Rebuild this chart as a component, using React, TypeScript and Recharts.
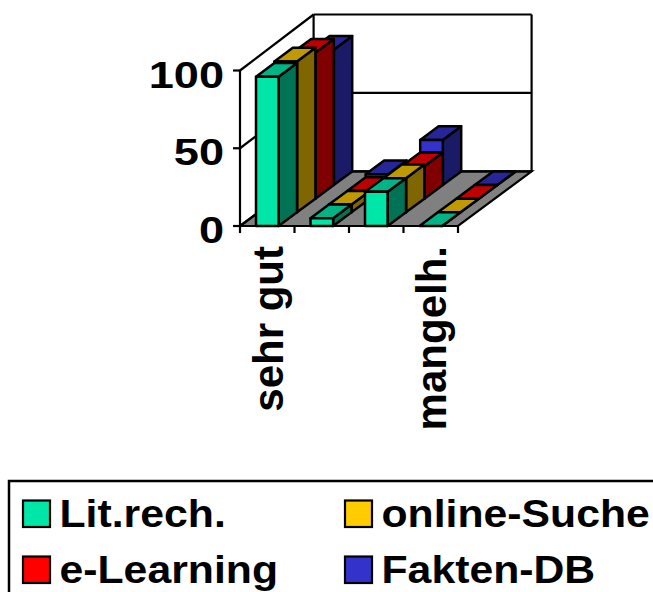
import React from 'react';
import { BarChart, Bar, XAxis, YAxis, usePlotArea } from 'recharts';

const categories = ['sehr gut', '', '', 'mangelh.'];
const litRech = [96, 5, 22, 0];
const onlineSuche = [97, 5, 22, 0];
const eLearning = [94, 5, 21, 0];
const faktenDb = [87, 7, 29, 0];
const yTicks = [0, 50, 100];

const data = categories.map((c, i) => ({
  cat: c + '#' + i,
  label: c,
  lit: litRech[i],
  online: onlineSuche[i],
  learn: eLearning[i],
  fakten: faktenDb[i],
}));

const FONT = '"Liberation Sans", Arial, sans-serif';
const DX = 18.4;
const DY = 13.65;
const BAR_W = 22.6;

type Palette = { front: string; top: string; side: string };
const teal: Palette = { front: '#00E6A8', top: '#00B486', side: '#007354' };
const yellow: Palette = { front: '#FFCC00', top: '#BF9900', side: '#806600' };
const red: Palette = { front: '#FF0000', top: '#BF0000', side: '#800000' };
const blue: Palette = { front: '#3333CC', top: '#262699', side: '#1A1A66' };

const bar3d = (pal: Palette, depth: number) => (props: any) => {
  const { x, y, width, height } = props;
  const ox = x + DX * depth;
  const oy = y - DY * depth;
  const x2 = ox + width;
  const yb = oy + height;
  const common = { stroke: '#000', strokeWidth: 2.5, strokeLinejoin: 'round' as const };
  return (
    <g>
      <polygon points={`${x2},${oy} ${x2 + DX},${oy - DY} ${x2 + DX},${yb - DY} ${x2},${yb}`} fill={pal.side} {...common} />
      <polygon points={`${ox},${oy} ${ox + DX},${oy - DY} ${x2 + DX},${oy - DY} ${x2},${oy}`} fill={pal.top} {...common} />
      {height > 0 && <rect x={ox} y={oy} width={width} height={height} fill={pal.front} {...common} />}
    </g>
  );
};

const Frame = () => {
  const p = usePlotArea();
  if (!p) return null;
  const { x: l, y: t, width: w, height: h } = p;
  const r = l + w;
  const b = t + h;
  const dx = DX * 4;
  const dy = DY * 4;
  const wallTop = 14.5;
  const wallY = (v: number) => b - dy - (v / 100) * (b - dy - wallTop);
  const ln = { stroke: '#000', strokeWidth: 2.2, fill: 'none' };
  return (
    <g>
      <polygon points={`${l},${b} ${l + dx},${b - dy} ${r + dx},${b - dy} ${r},${b}`} fill="#808080" stroke="#000" strokeWidth={2.2} />
      <line x1={l + dx} y1={wallTop} x2={l + dx} y2={b - dy} {...ln} />
      <line x1={r + dx} y1={wallTop} x2={r + dx} y2={b - dy} {...ln} />
      {yTicks.map((v) => (
        <g key={v}>
          <line x1={l + dx} y1={wallY(v)} x2={r + dx} y2={wallY(v)} {...ln} />
          <line x1={l} y1={b - (v / 100) * h} x2={l + dx} y2={wallY(v)} {...ln} />
        </g>
      ))}
      {[0, 1, 2, 3, 4].map((i) => (
        <line key={i} x1={l + (i * w) / 4} y1={b} x2={l + (i * w) / 4} y2={b + 7} {...ln} />
      ))}
    </g>
  );
};

const seriesNames = ['Lit.rech.', 'online-Suche', 'e-Learning', 'Fakten-DB'];
const seriesPalettes = [teal, yellow, red, blue];
const legendX = [23, 345];
const legendY = [500.5, 556.5];

const LegendBox = () => (
  <g>
    <rect x={9} y={481} width={700} height={200} fill="#fff" stroke="#000" strokeWidth={2.5} />
    {seriesNames.map((n, i) => {
      const sx = legendX[i % 2];
      const sy = legendY[Math.floor(i / 2)];
      return (
        <g key={n}>
          <rect x={sx} y={sy} width={27} height={26.5} fill={seriesPalettes[i].front} stroke="#000" strokeWidth={2.2} />
          <text transform={`translate(${sx + 36.5},${sy + 26.5}) scale(1.125,1)`} fontFamily={FONT} fontWeight="bold" fontSize={38} fill="#000">{n}</text>
        </g>
      );
    })}
  </g>
);

const CatTick = (props: any) => {
  const { x, y, index } = props;
  const label = categories[index];
  if (!label) return null;
  return (
    <text transform={`translate(${x + 15.5},${y + 12}) rotate(-90)`} textAnchor="end" fontFamily={FONT} fontWeight="bold" fontSize={42} fill="#000">
      {label}
    </text>
  );
};

const YTick = (props: any) => {
  const { x, y, payload } = props;
  return (
    <text transform={`translate(${x - 7},${y + 17}) scale(1.22,1)`} textAnchor="end" fontFamily={FONT} fontWeight="bold" fontSize={37} fill="#000">
      {payload.value}
    </text>
  );
};

export default function App() {
  return (
    <div style={{ position: 'absolute', left: 0, top: 0, width: 653, height: 592, overflow: 'hidden', background: '#fff' }}>
      <BarChart
        width={653}
        height={592}
        data={data}
        margin={{ top: 70.5, right: 195, bottom: 266, left: 0 }}
        barSize={BAR_W}
        barGap={-BAR_W}
      >
        <Frame />
        <XAxis dataKey="cat" height={100} interval={0} tickLine={false} axisLine={{ stroke: '#000', strokeWidth: 2.2 }} tick={<CatTick />} />
        <YAxis width={240} domain={[0, 100]} ticks={yTicks} tickSize={7} tickLine={{ stroke: '#000', strokeWidth: 2.2 }} axisLine={{ stroke: '#000', strokeWidth: 2.2 }} tick={<YTick />} />
        <Bar dataKey="fakten" isAnimationActive={false} shape={bar3d(blue, 3)} />
        <Bar dataKey="learn" isAnimationActive={false} shape={bar3d(red, 2)} />
        <Bar dataKey="online" isAnimationActive={false} shape={bar3d(yellow, 1)} />
        <Bar dataKey="lit" isAnimationActive={false} shape={bar3d(teal, 0)} />
        <LegendBox />
      </BarChart>
    </div>
  );
}
